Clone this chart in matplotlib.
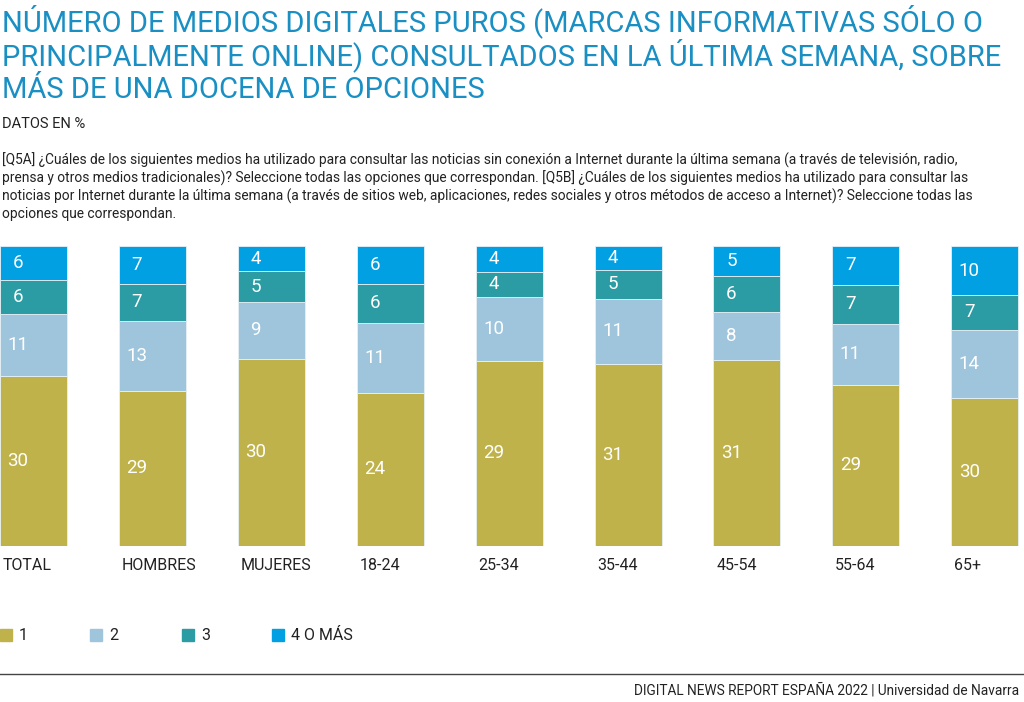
import matplotlib.pyplot as plt
import numpy as np
from matplotlib.patches import Rectangle

categories = ['TOTAL', 'HOMBRES', 'MUJERES', '18-24', '25-34', '35-44', '45-54', '55-64', '65+']
series_names = ['1', '2', '3', '4 O MÁS']
uno = [30, 29, 30, 24, 29, 31, 31, 29, 30]
dos = [11, 13, 9, 11, 10, 11, 8, 11, 14]
tres = [6, 7, 5, 6, 4, 5, 6, 7, 7]
cuatro = [6, 7, 4, 6, 4, 4, 5, 7, 10]

colors = ['#BFB24A', '#9FC5DC', '#2B9CA3', '#00A0E3']
title_color = '#1A8FC3'
text_color = '#222222'

plt.rcParams['font.family'] = ['Roboto', 'DejaVu Sans']

W, H = 1024, 702
fig = plt.figure(figsize=(W / 100, H / 100), dpi=100)

# title block
title_lines = ['NÚMERO DE MEDIOS DIGITALES PUROS (MARCAS INFORMATIVAS SÓLO O',
               'PRINCIPALMENTE ONLINE) CONSULTADOS EN LA ÚLTIMA SEMANA, SOBRE',
               'MÁS DE UNA DOCENA DE OPCIONES']
for i, line in enumerate(title_lines):
    fig.text(2 / W, 1 - (21 + i * 34.5) / H, line, color=title_color, fontsize=21,
             va='center', ha='left')
fig.text(2 / W, 1 - 124 / H, 'DATOS EN %', color=text_color, fontsize=10.5, va='center')

note = ['[Q5A] ¿Cuáles de los siguientes medios ha utilizado para consultar las noticias sin conexión a Internet durante la última semana (a través de televisión, radio,',
        'prensa y otros medios tradicionales)? Seleccione todas las opciones que correspondan. [Q5B] ¿Cuáles de los siguientes medios ha utilizado para consultar las',
        'noticias por Internet durante la última semana (a través de sitios web, aplicaciones, redes sociales y otros métodos de acceso a Internet)? Seleccione todas las',
        'opciones que correspondan.']
for i, line in enumerate(note):
    fig.text(2 / W, 1 - (160 + i * 18) / H, line, color=text_color, fontsize=9.9, va='center')

# bars: each column normalised to its own total
data = np.array([uno, dos, tres, cuatro], dtype=float)
shares = data / data.sum(axis=0)

pitch = 118.9
ax = fig.add_axes([0, (H - 546) / H, 1, 300 / H])
ax.set_xlim(0, W / pitch)
ax.set_ylim(0, 1)
ax.axis('off')

x = np.arange(len(categories))
bw = 67 / pitch
bottom = np.zeros(len(categories))
for k in range(4):
    ax.bar(x, shares[k], width=bw, bottom=bottom, align='edge', color=colors[k],
           edgecolor='#E6F0F5', linewidth=0.6)
    for j in range(len(categories)):
        ax.text(x[j] + 18 / pitch, bottom[j] + shares[k][j] / 2, str(int(data[k][j])),
                color='white', fontsize=13.5, ha='center', va='center')
    bottom += shares[k]

for j, c in enumerate(categories):
    ax.text(x[j] + 3 / pitch, -19 / 300, c, color=text_color, fontsize=11.5,
            ha='left', va='center', clip_on=False)

# legend
leg_x = [0, 90, 182, 272]
for k, name in enumerate(series_names):
    fig.patches.append(Rectangle((leg_x[k] / W, 1 - 641 / H), 12 / W, 12 / H,
                                 transform=fig.transFigure, color=colors[k]))
    fig.text((leg_x[k] + 19) / W, 1 - 635 / H, name, color=text_color, fontsize=11.5,
             va='center', ha='left')

fig.add_artist(plt.Line2D([0, 1], [1 - 674 / H, 1 - 674 / H], color='#444444', lw=1))
fig.text(1019 / W, 1 - 690 / H, 'DIGITAL NEWS REPORT ESPAÑA 2022 | Universidad de Navarra',
         color=text_color, fontsize=9.8, ha='right', va='center')

fig.savefig('out.png', dpi=100)
